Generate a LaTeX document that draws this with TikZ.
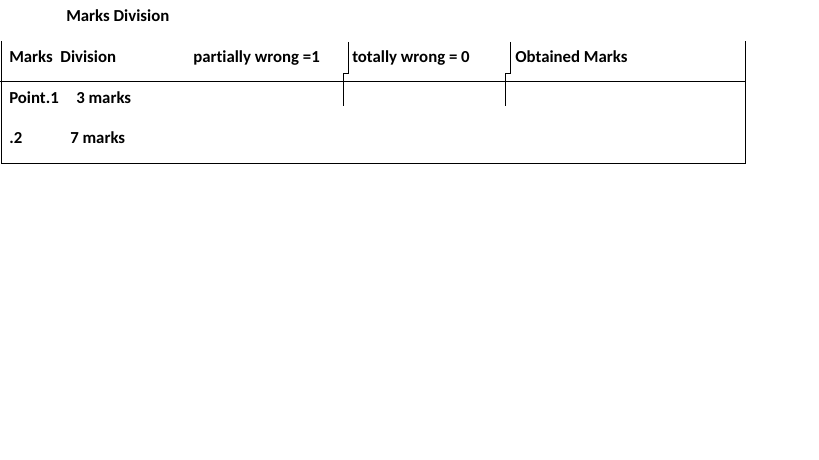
\documentclass[tikz,border=0pt]{standalone}
\usepackage{fontspec}
\setmainfont{Carlito}[Ligatures=NoCommon]
\begin{document}
\begin{tikzpicture}[x=0.75pt,y=-0.75pt,
  txt/.style={anchor=base west,inner sep=0pt,font=\fontsize{12.6}{15}\selectfont\bfseries},
  rule/.style={line width=0.75pt,black}]
\useasboundingbox (0,0) rectangle (819,460);
% texts
\node[txt] (title) at (66,22) {Marks Division};
\node[txt] (h1) at (9,63) {Marks\ \ Division};
\node[txt] (h2) at (193,63) {partially wrong =1};
\node[txt] (h3) at (352,63) {totally wrong = 0};
\node[txt] (h4) at (515,63) {Obtained Marks};
\node[txt] (r1a) at (9,104) {Point.1};
\node[txt] (r1b) at (76,104) {3 marks};
\node[txt] (r2a) at (9,144) {.2};
\node[txt] (r2b) at (70,144) {7 marks};
% table lines
\coordinate (tl) at (1,41);
\coordinate (tr) at (745,41);
\coordinate (bl) at (1,164);
\coordinate (br) at (745,164);
\draw[rule] (tl) -- (bl) -- (br) -- (tr);
\draw[rule] (0,82) -- (745,82);
\draw[rule] (348,42) -- (348,74) -- (343,74) -- (343,106);
\draw[rule] (510,42) -- (510,74) -- (505,74) -- (505,106);
\end{tikzpicture}
\end{document}
